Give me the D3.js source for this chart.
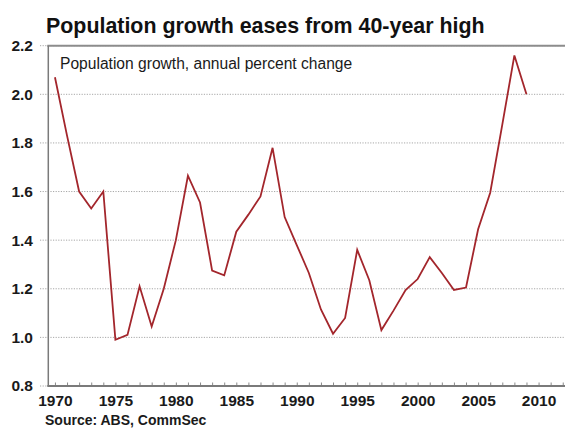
<!DOCTYPE html>
<html>
<head>
<meta charset="utf-8">
<script src="https://cdn.jsdelivr.net/npm/d3@7"></script>
<style>
  html, body { margin: 0; padding: 0; background: #fff; }
  svg { display: block; font-family: "Liberation Sans", Arial, sans-serif; }
</style>
</head>
<body>
<svg id="chart" width="565" height="428"></svg>
<script>
const title = "Population growth eases from 40-year high";
const subtitle = "Population growth, annual percent change";
const source = "Source: ABS, CommSec";
const years = [1970,1971,1972,1973,1974,1975,1976,1977,1978,1979,1980,1981,1982,1983,1984,1985,1986,1987,1988,1989,1990,1991,1992,1993,1994,1995,1996,1997,1998,1999,2000,2001,2002,2003,2004,2005,2006,2007,2008,2009];
const growth = [2.07,1.83,1.60,1.53,1.60,0.99,1.01,1.21,1.045,1.20,1.40,1.665,1.555,1.275,1.255,1.435,1.505,1.58,1.78,1.495,1.38,1.265,1.115,1.015,1.08,1.36,1.235,1.03,1.11,1.195,1.24,1.33,1.265,1.195,1.205,1.445,1.595,1.875,2.16,2.0];
const yTicks = [0.8,1.0,1.2,1.4,1.6,1.8,2.0,2.2];
const xLabelYears = [1970,1975,1980,1985,1990,1995,2000,2005,2010];
const xTickYears = d3.range(1970, 2013);

const svg = d3.select("#chart");
const pLeft = 48.3, pTop = 45.7, pBottom = 386, pRight = 570;

const x = d3.scaleLinear().domain([1969.45, 2012.6]).range([pLeft, pRight]);
const y = d3.scaleLinear().domain([0.8, 2.2]).range([pBottom, pTop]);

// gridlines (dotted)
svg.append("g").selectAll("line").data(yTicks.filter(d => d > 0.8)).join("line")
  .attr("x1", 40).attr("x2", 565)
  .attr("y1", d => y(d)).attr("y2", d => y(d))
  .attr("stroke", "#a8a8a8").attr("stroke-width", 1)
  .attr("stroke-dasharray", "1.2,1.4");
svg.append("line").attr("x1", 40).attr("x2", pLeft).attr("y1", y(0.8)).attr("y2", y(0.8))
  .attr("stroke", "#a8a8a8").attr("stroke-width", 1).attr("stroke-dasharray", "1.2,1.4");

// y axis labels
const yAxis = d3.axisLeft(y).tickValues(yTicks).tickFormat(d3.format(".1f")).tickSize(0).tickPadding(0);
const yg = svg.append("g").attr("transform", "translate(33,0)").call(yAxis);
yg.select(".domain").remove();
yg.selectAll("text").attr("font-size", "15.5px").attr("font-weight", "bold").attr("fill", "#1a1a1a")
  .attr("font-family", "Liberation Sans, Arial, sans-serif");

// x axis ticks
const xAxis = d3.axisBottom(x).tickValues(xTickYears).tickSize(-3.5).tickFormat("");
const xg = svg.append("g").attr("transform", `translate(0,${pBottom})`).call(xAxis);
xg.select(".domain").remove();
xg.selectAll(".tick line").attr("stroke", "#8a8a8a").attr("stroke-width", 1);

const xLab = d3.axisBottom(x).tickValues(xLabelYears).tickFormat(d3.format("d")).tickSize(0).tickPadding(9);
const xl = svg.append("g").attr("transform", `translate(0,${pBottom})`).call(xLab);
xl.select(".domain").remove();
xl.selectAll("text").attr("font-size", "15.5px").attr("font-weight", "bold").attr("fill", "#1a1a1a")
  .attr("font-family", "Liberation Sans, Arial, sans-serif");

// frame
svg.append("line").attr("x1", pLeft - 1).attr("x2", 565).attr("y1", pTop).attr("y2", pTop)
  .attr("stroke", "#8c8c8c").attr("stroke-width", 2);
svg.append("line").attr("x1", pLeft).attr("x2", pLeft).attr("y1", pTop).attr("y2", pBottom)
  .attr("stroke", "#7a7a7a").attr("stroke-width", 1.5);
svg.append("line").attr("x1", pLeft - 1).attr("x2", 565).attr("y1", pBottom).attr("y2", pBottom)
  .attr("stroke", "#7a7a7a").attr("stroke-width", 2);

// series line
const line = d3.line().x((d, i) => x(years[i])).y(d => y(d));
svg.append("path").datum(growth).attr("d", line)
  .attr("fill", "none").attr("stroke", "#a3262c").attr("stroke-width", 1.8)
  .attr("stroke-linejoin", "miter");

// texts
svg.append("text").attr("x", 46).attr("y", 32.5).text(title)
  .attr("font-size", "21.4px").attr("font-weight", "bold").attr("fill", "#111");
svg.append("text").attr("x", 60).attr("y", 68.5).text(subtitle)
  .attr("font-size", "15.6px").attr("fill", "#1a1a1a");
svg.append("text").attr("x", 45).attr("y", 424.5).text(source)
  .attr("font-size", "14px").attr("font-weight", "bold").attr("fill", "#1a1a1a");
</script>
</body>
</html>
